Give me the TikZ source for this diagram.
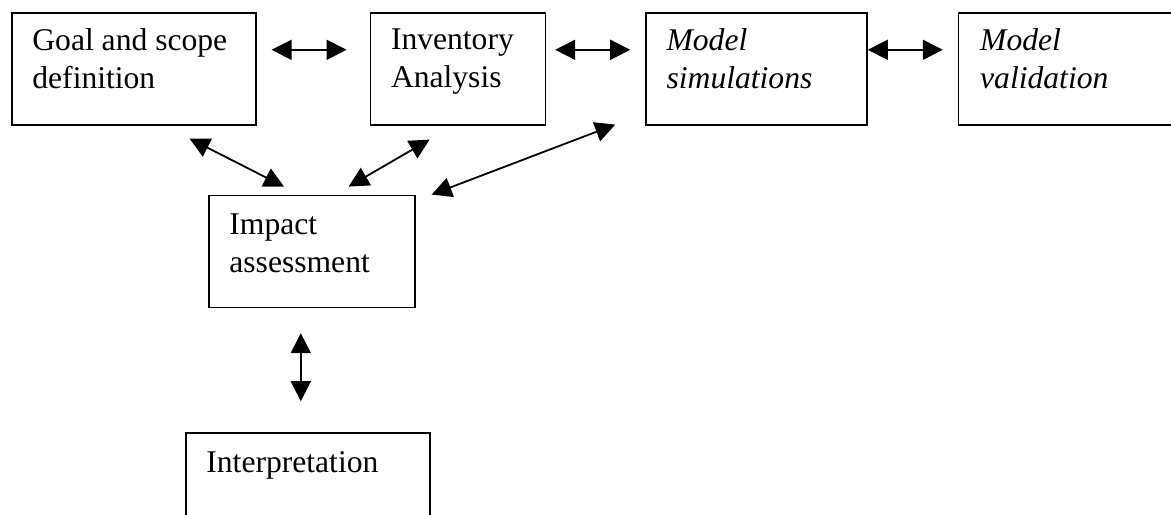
\documentclass[tikz,border=0pt]{standalone}
\usepackage{fontspec}
\setmainfont{Liberation Serif}
\usepackage{tikz}
\usetikzlibrary{positioning,arrows.meta}
\tikzset{
  stage-box/.style={draw=black,line width=0.8pt,minimum height=56pt,inner sep=0pt},
  stage-text/.style={anchor=north west,inner sep=0pt,align=left,
    font=\fontsize{15.8pt}{19pt}\selectfont},
  link/.style={{Triangle[length=10pt,width=10pt]}-{Triangle[length=10pt,width=10pt]},line width=0.9pt},
}
\begin{document}
\begin{tikzpicture}
  \clip (0,0) rectangle (585.5pt,-257pt);
  % top row
  \node[stage-box,minimum width=122pt,anchor=north west] (goal) at (5.5pt,-6pt) {};
  \node[stage-box,minimum width=87.5pt,right=56.5pt of goal] (inv) {};
  \node[stage-box,minimum width=110.5pt,right=49.5pt of inv] (sim) {};
  \node[stage-box,minimum width=130pt,right=45pt of sim] (val) {};
  % left column
  \node[stage-box,minimum width=103pt,below right=34.5pt and 98.5pt of goal.south west] (impact) {};
  \node[stage-box,minimum width=122pt,below right=62pt and -11.5pt of impact.south west] (interp) {};
  % texts
  \node[stage-text] (goal-t) at ([shift={(10.5pt,-8.2pt)}]goal.north west) {Goal and scope\\definition};
  \node[stage-text] (inv-t) at ([shift={(10.5pt,-8.4pt)}]inv.north west) {Inventory\\Analysis};
  \node[stage-text] (sim-t) at ([shift={(10.5pt,-8.2pt)}]sim.north west) {\itshape Model\\\itshape simulations};
  \node[stage-text] (val-t) at ([shift={(11pt,-8.2pt)}]val.north west) {\itshape Model\\\itshape validation};
  \node[stage-text] (impact-t) at ([shift={(10.5pt,-9.4pt)}]impact.north west) {Impact\\assessment};
  \node[stage-text] (interp-t) at ([shift={(10.5pt,-9.4pt)}]interp.north west) {Interpretation};
  % links
  \draw[link] ([shift={(7.5pt,9.5pt)}]goal.east) -- ([shift={(-11.5pt,9.5pt)}]inv.west);
  \draw[link] ([shift={(4.5pt,9.5pt)}]inv.east) -- ([shift={(-7.5pt,9.5pt)}]sim.west);
  \draw[link] ([shift={(0pt,9.5pt)}]sim.east) -- ([shift={(-7.5pt,9.5pt)}]val.west);
  \draw[link] ([shift={(-33.5pt,-6.5pt)}]goal.south east) -- ([shift={(38pt,4pt)}]impact.north west);
  \draw[link] ([shift={(30pt,-7pt)}]inv.south west) -- ([shift={(-33.5pt,4pt)}]impact.north east);
  \draw[link] ([shift={(-15pt,0.5pt)}]sim.south west) -- ([shift={(8pt,0pt)}]impact.north east);
  \draw[link] ([shift={(-5.5pt,-12.5pt)}]impact.south) -- ([shift={(-3.5pt,15.5pt)}]interp.north);
\end{tikzpicture}
\end{document}
